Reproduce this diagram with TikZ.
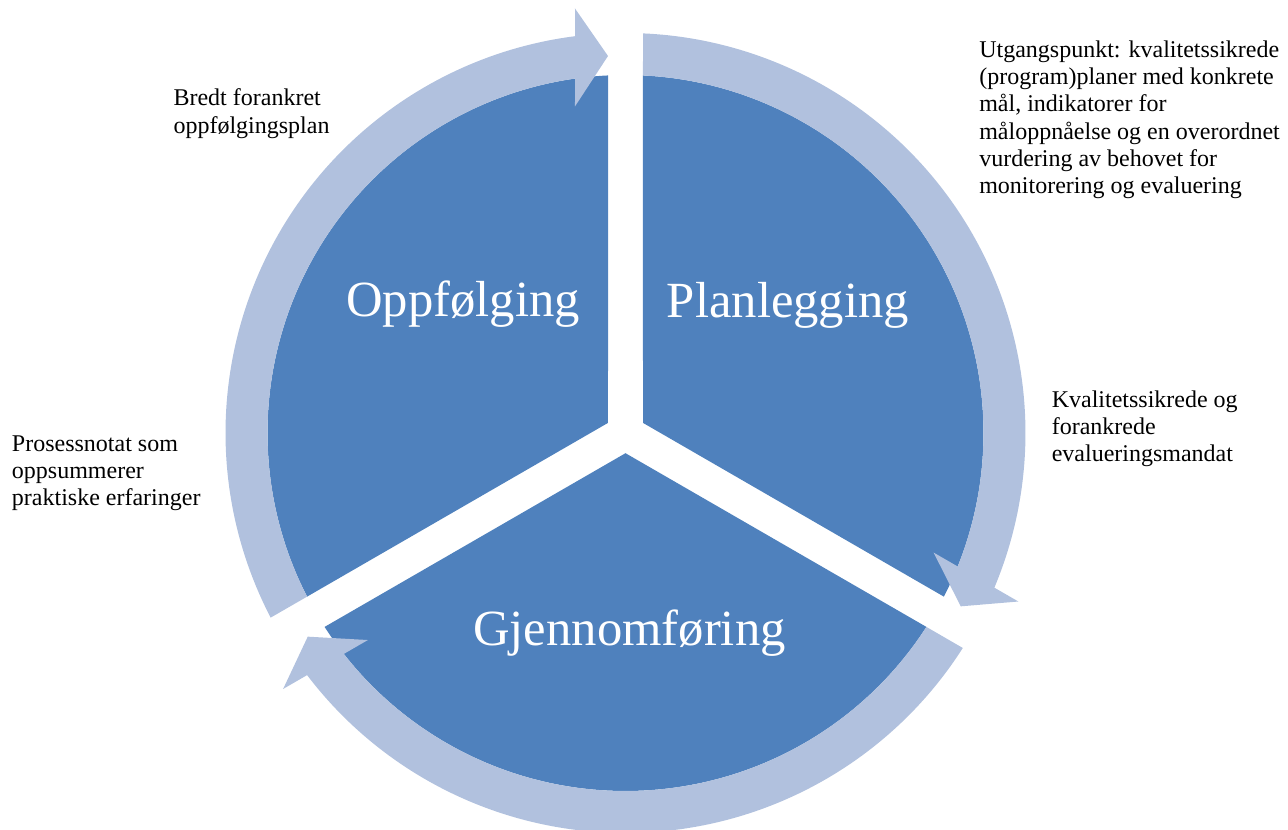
\documentclass[tikz,border=0pt]{standalone}
\usepackage{fontspec}
\setmainfont{Liberation Serif}
\usepackage{tikz}
\definecolor{phaseblue}{RGB}{79,129,189}
\definecolor{ringblue}{RGB}{177,193,222}
\tikzset{phase sector/.style={fill=phaseblue},
         ring arrow/.style={fill=ringblue},
         phase label/.style={text=white,font=\fontsize{38}{45}\selectfont,anchor=base,inner sep=0pt},
         note text/.style={font=\fontsize{18}{20.5}\selectfont,align=left,anchor=north west,inner sep=0pt},
            }
% one third of the disc and one arrow of the ring, both for the upper left part
\newcommand{\sectorpath}{(150:20.21) -- (92.8:358) arc[start angle=92.8,end angle=207.2,radius=358] -- cycle}
\newcommand{\ringpath}{(207.49:400) arc[start angle=207.49,end angle=97.25,radius=400]
    -- (-50.5,424.5) -- (-17.5,377) -- (-50.5,326.6)
    -- (98.11:358) arc[start angle=98.11,end angle=207.2,radius=358] -- cycle}

\begin{document}
\begin{tikzpicture}[x=0.75pt,y=0.75pt]

    \useasboundingbox (-625.5,-397) rectangle (662.5,433);
    \coordinate (centre) at (0,0);

    % disc
    \fill[phase sector] \sectorpath;
    \fill[phase sector,rotate=-120] \sectorpath;
    \fill[phase sector,rotate=120] \sectorpath;

    % ring
    \fill[ring arrow] \ringpath;
    \fill[ring arrow,rotate=-120] \ringpath;
    \fill[ring arrow,rotate=120] \ringpath;

    \node[phase label] (oppfolging) at (-162.5,116) {Oppfølging};
    \node[phase label] (planlegging) at (162.5,115) {Planlegging};
    \node[phase label] (gjennomforing) at (4,-213) {Gjennomføring};

    \node[note text] (utgangspunkt) at (353.5,392.7) {Utgangspunkt: kvalitetssikrede\\(program)planer med konkrete\\mål, indikatorer for\\måloppnåelse og en overordnet\\vurdering av behovet for\\monitorering og evaluering};
    \node[note text] (mandat) at (426,42.7) {Kvalitetssikrede og\\forankrede\\evalueringsmandat};
    \node[note text] (prosessnotat) at (-613.8,-2.3) {Prosessnotat som\\oppsummerer\\praktiske erfaringer};
    \node[note text] (plan) at (-452.2,344.4) {Bredt forankret\\oppfølgingsplan};

\end{tikzpicture}
\end{document}
